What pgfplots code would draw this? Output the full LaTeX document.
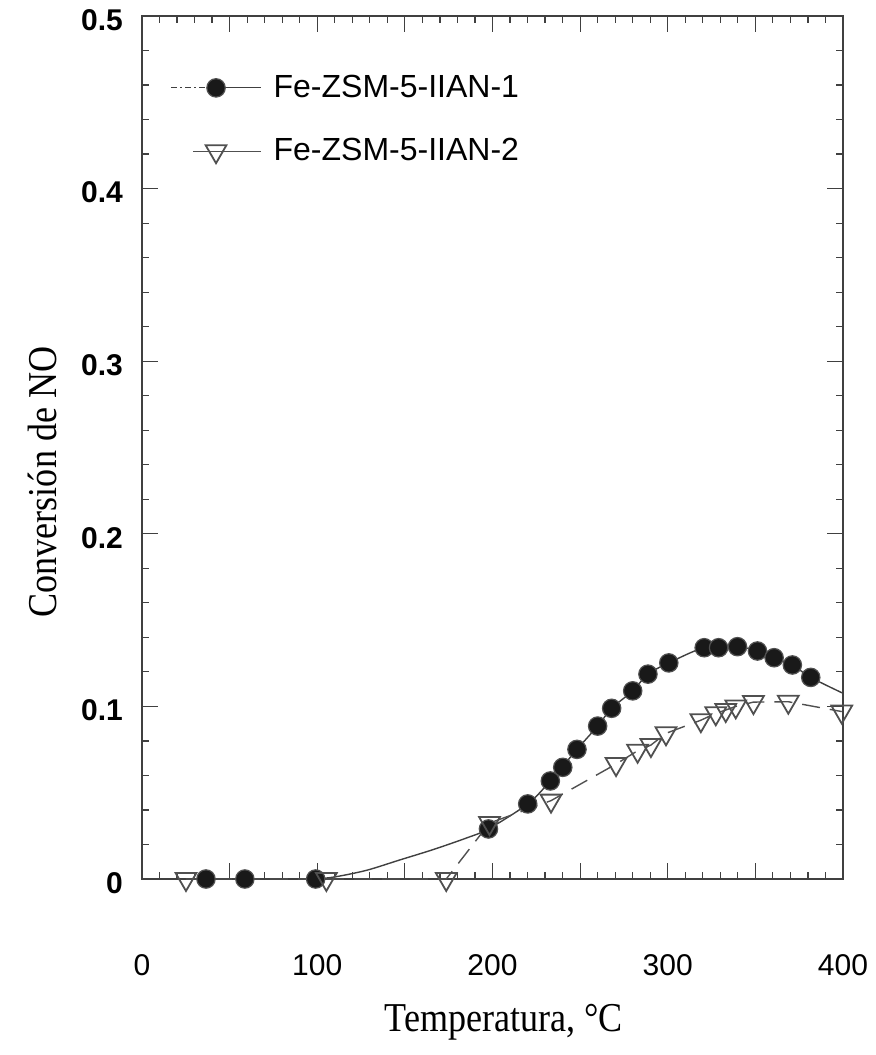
\documentclass[border=0pt]{standalone}
\usepackage{fontspec}
\setmainfont{Liberation Sans}
\newfontfamily\labfont[FakeStretch=0.88]{Liberation Serif}
\usepackage{pgfplots}
\pgfplotsset{compat=1.18}

\definecolor{markgray}{HTML}{505050}
\definecolor{linegray}{HTML}{404040}

\pgfplotsset{
  legone/.style={legend image code/.code={
    \draw[linegray, line width=0.6pt, dash pattern=on 3pt off 1.5pt on 1pt off 1.5pt] (0pt,0pt)--(22pt,0pt);
    \draw[linegray, line width=0.5pt] (22pt,0pt)--(45pt,0pt);
    \draw[##1] plot coordinates {(22.5pt,0pt)};}},
  legtwo/.style={legend image code/.code={
    \draw[markgray, line width=0.6pt] (11pt,0pt)--(45pt,0pt);
    \draw[##1] plot coordinates {(22.5pt,0pt)};}},
}

\begin{document}
\begin{tikzpicture}
% page frame, in pt from the axis' lower left corner
\path[use as bounding box] (-71pt,-88pt) rectangle (367pt,439.5pt);
\begin{axis}[
  at={(0,0)}, anchor=south west,
  scale only axis,
  width=350.5pt, height=431.5pt,
  xmin=0, xmax=400, ymin=0, ymax=0.5,
  xtick={0,50,...,400},
  xticklabels={0,,100,,200,,300,,400},
  ytick={0,0.1,0.2,0.3,0.4,0.5},
  yticklabels={0,0.1,0.2,0.3,0.4,0.5},
  minor x tick num=4, minor y tick num=4,
  tick align=inside,
  major tick length=8pt, minor tick length=3.5pt,
  every tick/.style={linegray, line width=0.6pt},
  axis line style={linegray, line width=0.8pt},
  xticklabel style={font=\fontsize{15}{18}\selectfont, yshift=-34pt},
  yticklabel style={font=\fontsize{15}{18}\selectfont\bfseries, xshift=-6pt, yshift=-2pt},
  xlabel={\labfont Temperatura, °C},
  ylabel={\labfont Conversión de NO},
  label style={font=\fontsize{20.5}{24}\selectfont},
  xlabel style={at={(axis description cs:0.516,-0.1657)}, anchor=center},
  ylabel style={at={(axis description cs:-0.1427,0.46)}, anchor=center},
  legend style={draw=none, fill=none, font=\fontsize{16}{19}\selectfont,
    at={(axis description cs:0.04,0.880)}, anchor=west,
    inner sep=0pt, row sep=15pt, column sep=4pt},
  legend cell align=left,
  clip=false,
]
% fitted curve, series 1
\addplot[linegray, line width=0.7pt, smooth, forget plot] coordinates {
  (99.1,0) (110,0.0012) (128,0.005) (147,0.011) (166,0.017) (185,0.0237)
  (197.7,0.029) (220.1,0.0435) (233.0,0.0568) (248.2,0.0751) (260.0,0.0886)
  (268.0,0.0989) (280.0,0.109) (288.7,0.1187) (300.6,0.1252) (320.8,0.134)
  (339.8,0.1346) (351.2,0.1321) (360.7,0.1282) (371.1,0.124) (381.6,0.1168)
  (400,0.1076)};
% connecting line, series 2
\addplot[markgray, line width=0.7pt, dash pattern=on 9pt off 5pt, forget plot] coordinates {
  (25.1,0) (105.2,0) (173.6,0) (198.3,0.0324) (233.4,0.0454) (270.5,0.0666)
  (282.8,0.0743) (290.4,0.0776) (299.0,0.0844) (318.9,0.092) (327.4,0.096)
  (333.1,0.0979) (338.8,0.1) (348.9,0.1025) (368.8,0.1027) (399.3,0.097)};
% series 1 points
\addplot[only marks, mark=*, mark size=4.6pt,
  mark options={fill=black!90, draw=markgray, line width=0.6pt}, legone
] coordinates {
  (36.5,0) (58.7,0) (99.1,0) (197.7,0.029) (220.1,0.0435) (233.0,0.0568)
  (240.1,0.0647) (248.2,0.0751) (260.0,0.0886) (268.0,0.0989) (280.0,0.109)
  (288.7,0.1187) (300.6,0.1252) (320.8,0.134) (329.0,0.134) (339.8,0.1346)
  (351.2,0.1321) (360.7,0.1282) (371.1,0.124) (381.6,0.1168)};
\addlegendentry{Fe-ZSM-5-IIAN-1}
% series 2 points
\addplot[only marks, mark=triangle, mark size=6pt,
  mark options={rotate=180, fill=white, draw=markgray, line width=0.9pt}, legtwo
] coordinates {
  (25.1,0) (105.2,0) (173.6,0) (198.3,0.0324) (233.4,0.0454) (270.5,0.0666)
  (282.8,0.0743) (290.4,0.0776) (299.0,0.0844) (318.9,0.092) (327.4,0.096)
  (333.1,0.0979) (338.8,0.1) (348.9,0.1025) (368.8,0.1027) (399.3,0.097)};
\addlegendentry{Fe-ZSM-5-IIAN-2}
\end{axis}
\end{tikzpicture}
\end{document}
